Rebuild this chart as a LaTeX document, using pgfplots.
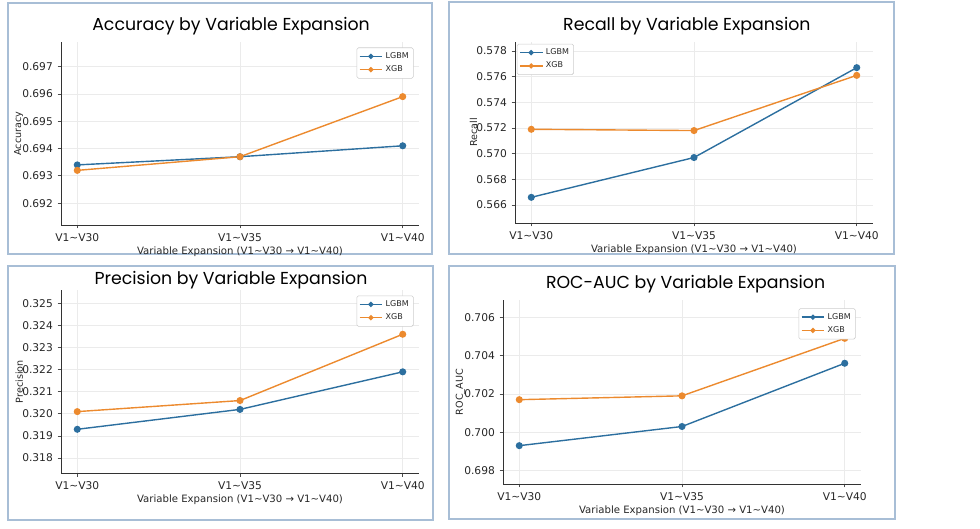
\documentclass[border=0pt]{standalone}
\usepackage{fontspec}
\setmainfont{DejaVu Sans}
\newfontfamily\poppins{Poppins}
\usepackage{pgfplots}
\pgfplotsset{compat=1.18}
\definecolor{lgbm}{HTML}{2C6F9F}
\definecolor{xgb}{HTML}{EC8A2E}
\definecolor{frame}{HTML}{A8BED6}
\definecolor{txt}{HTML}{262626}
\pgfplotsset{
  panel/.style={
    scale only axis, width=268.5pt,
    anchor=south west,
    xmin=-0.1, xmax=2.1,
    axis x line*=bottom, axis y line*=left,
    axis line style={draw=black!80, line width=0.6pt},
    xtick={0,1,2},
    xticklabels={V1\textasciitilde V30, V1\textasciitilde V35, V1\textasciitilde V40},
    tick align=outside, major tick length=2.6pt,
    tick style={draw=black!70, line width=0.5pt},
    grid=major, major grid style={draw=black!8, line width=0.5pt},
    scaled y ticks=false,
    /pgf/number format/assume math mode=true,
    yticklabel style={/pgf/number format/.cd, fixed, fixed zerofill, precision=3},
    ticklabel style={font=\fontsize{8}{9.5}\selectfont, text=txt},
    xlabel={Variable Expansion (V1\textasciitilde V30 → V1\textasciitilde V40)},
    xlabel style={font=\fontsize{7.6}{9}\selectfont, text=txt, yshift=3pt},
    ylabel style={font=\fontsize{7.2}{8.5}\selectfont, text=txt, yshift=-7.5pt},
    title style={font=\poppins\fontsize{13}{15}\selectfont, text=black, anchor=south},
    legend style={font=\fontsize{6}{7}\selectfont, draw=black!20, rounded corners=1.2pt,
      inner sep=1.5pt, row sep=0pt, text=txt},
    legend cell align=left,
    legend image post style={mark size=1.4pt},
    every axis plot/.append style={line width=1.05pt, mark=*, mark size=2.1pt},
  },
}
\begin{document}
\begin{tikzpicture}
\path[use as bounding box] (0,0) rectangle (735pt,396pt);
% panel frames
\draw[frame, line width=1.2pt] (6pt,393.75pt) rectangle (324pt,205.5pt);
\draw[frame, line width=1.2pt] (336.75pt,394.5pt) rectangle (670.5pt,205.5pt);
\draw[frame, line width=1.2pt] (6pt,196.5pt) rectangle (324.75pt,6pt);
\draw[frame, line width=1.2pt] (336.75pt,196.5pt) rectangle (671.25pt,6.75pt);

% Accuracy
\begin{axis}[panel, at={(45.75pt,227.25pt)}, height=137.25pt,
  ymin=0.6912, ymax=0.6979,
  ytick={0.692,0.693,0.694,0.695,0.696,0.697},
  ylabel={Accuracy},
  title={Accuracy by Variable Expansion},
  title style={at={(0.475,1)}, yshift=-4pt},
  legend style={at={(0.985,0.97)}, anchor=north east}]
\addplot[color=lgbm] coordinates {(0,0.6934) (1,0.6937) (2,0.6941)};
\addlegendentry{LGBM}
\addplot[color=xgb] coordinates {(0,0.6932) (1,0.6937) (2,0.6959)};
\addlegendentry{XGB}
\end{axis}

% Recall
\begin{axis}[panel, at={(386.25pt,228.75pt)}, height=135.75pt,
  ymin=0.5646, ymax=0.5787,
  ytick={0.566,0.568,0.570,0.572,0.574,0.576,0.578},
  ylabel={Recall},
  title={Recall by Variable Expansion},
  title style={at={(0.48,1)}, yshift=-4pt},
  legend style={at={(0.005,0.99)}, anchor=north west}]
\addplot[color=lgbm] coordinates {(0,0.5666) (1,0.5697) (2,0.5767)};
\addlegendentry{LGBM}
\addplot[color=xgb] coordinates {(0,0.5719) (1,0.5718) (2,0.5761)};
\addlegendentry{XGB}
\end{axis}

% Precision
\begin{axis}[panel, at={(45.75pt,40.875pt)}, height=137.6pt,
  ymin=0.3173, ymax=0.3256,
  ytick={0.318,0.319,0.320,0.321,0.322,0.323,0.324,0.325},
  ylabel={Precision},
  title={Precision by Variable Expansion},
  title style={at={(0.475,1)}, yshift=-9pt},
  legend style={at={(0.985,0.97)}, anchor=north east}]
\addplot[color=lgbm] coordinates {(0,0.3193) (1,0.3202) (2,0.3219)};
\addlegendentry{LGBM}
\addplot[color=xgb] coordinates {(0,0.3201) (1,0.3206) (2,0.3236)};
\addlegendentry{XGB}
\end{axis}

% ROC-AUC
\begin{axis}[panel, at={(377.25pt,33pt)}, height=138pt,
  ymin=0.6973, ymax=0.7069,
  ytick={0.698,0.700,0.702,0.704,0.706},
  ylabel={ROC\_AUC},
  title={ROC-AUC by Variable Expansion},
  title style={at={(0.51,1)}, yshift=-4pt},
  legend style={at={(0.985,0.955)}, anchor=north east}]
\addplot[color=lgbm] coordinates {(0,0.6993) (1,0.7003) (2,0.7036)};
\addlegendentry{LGBM}
\addplot[color=xgb] coordinates {(0,0.7017) (1,0.7019) (2,0.7049)};
\addlegendentry{XGB}
\end{axis}
\end{tikzpicture}
\end{document}
